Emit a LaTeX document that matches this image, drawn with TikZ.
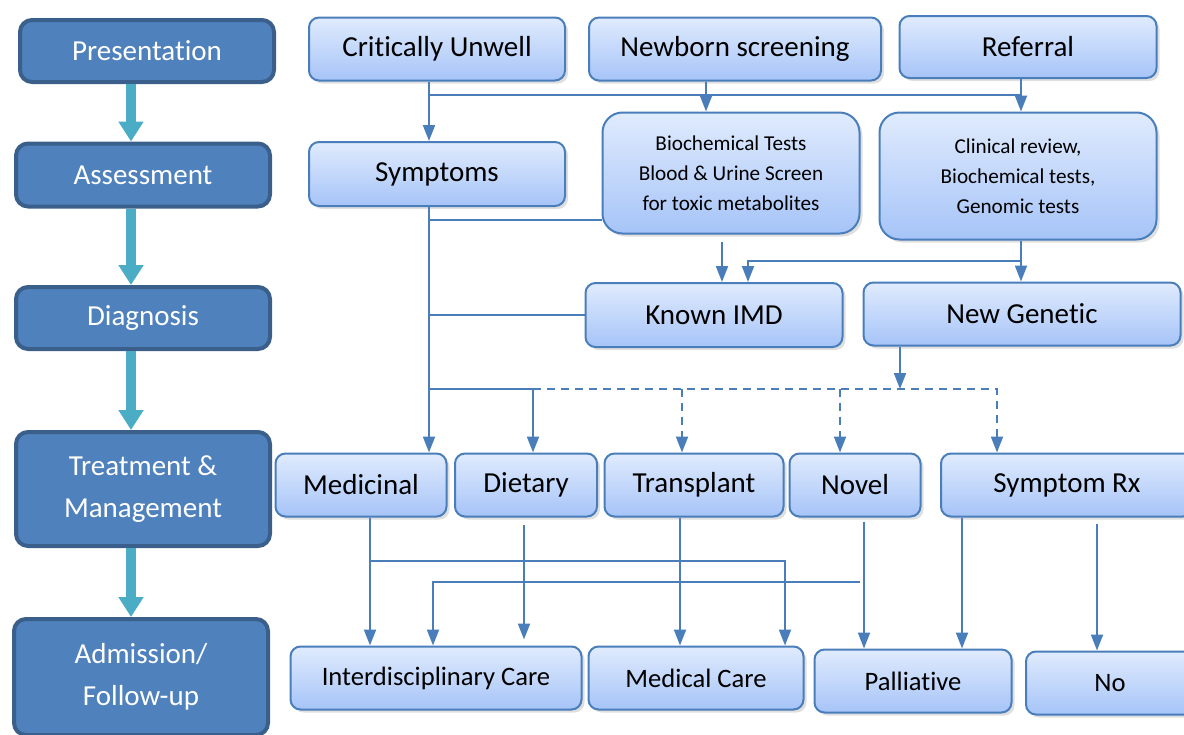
\documentclass[tikz,border=0pt]{standalone}
\usepackage{fontspec}
\setmainfont{Carlito}[Ligatures={NoCommon,NoContextual}]
\usetikzlibrary{arrows.meta,calc,shadows}
\definecolor{stagefill}{HTML}{4F81BD}
\definecolor{stageedge}{HTML}{3A5F8B}
\definecolor{stagearrow}{HTML}{4BACC6}
\definecolor{linkblue}{HTML}{4A7EBB}
\definecolor{boxtop}{HTML}{E0EBFD}
\definecolor{boxbot}{HTML}{A6C4F8}
\tikzset{
  stage/.style={draw=stageedge, line width=2pt, fill=stagefill, rounded corners=6pt,
    text=white, align=center, inner sep=0pt, font=\fontsize{14.5}{21}\selectfont},
  stagelink/.style={draw=stagearrow, line width=5pt, -{Triangle[width=12pt,length=10pt]}},
  item/.style={draw=linkblue, line width=1pt, top color=boxtop, bottom color=boxbot,
    rounded corners=5pt, align=center, inner sep=0pt, font=\fontsize{14.5}{17}\selectfont,
    drop shadow={shadow xshift=1.5pt, shadow yshift=-1.5pt, opacity=0.25}},
  testitem/.style={item, rounded corners=10pt, font=\fontsize{10.6}{15}\selectfont},
  careitem/.style={item, font=\fontsize{13.3}{16}\selectfont},
  link/.style={draw=linkblue, line width=1pt},
  flow/.style={link, -{Triangle[width=6pt,length=8pt]}},
  dflow/.style={flow, dash pattern=on 4pt off 3pt},
  dlink/.style={link, dash pattern=on 4pt off 3pt},
}

\begin{document}
\begin{tikzpicture}[x=0.5pt,y=-0.5pt]
  \useasboundingbox (0,0) rectangle (1184,734);

  % Stages
  \node[stage, minimum width=127pt, minimum height=31pt] (pres) at (147,51) {Presentation};
  \node[stage, minimum width=127pt, minimum height=31.5pt] (assess) at (143,175) {Assessment};
  \node[stage, minimum width=127pt, minimum height=31pt] (diag) at (143,318) {Diagnosis};
  \node[stage, minimum width=127pt, minimum height=57pt] (treat) at (143,489) {Treatment \&\\Management};
  \node[stage, minimum width=127pt, minimum height=58pt] (admit) at (141,677) {Admission/\\Follow-up};

  \draw[stagelink] ($(pres.south)+(-16,0)$) -- ($(assess.north)+(-12,0)$);
  \draw[stagelink] ($(assess.south)+(-12,0)$) -- ($(diag.north)+(-12,0)$);
  \draw[stagelink] ($(diag.south)+(-12,0)$) -- ($(treat.north)+(-12,0)$);
  \draw[stagelink] ($(treat.south)+(-12,0)$) -- ($(admit.north)+(-10,0)$);

  % Boxes
  \node[item, minimum width=128pt, minimum height=31.5pt] (crit) at (437,49) {Critically Unwell};
  \node[item, minimum width=146pt, minimum height=31.5pt] (newb) at (735,49) {Newborn screening};
  \node[item, minimum width=128.5pt, minimum height=31pt] (refr) at (1028,47) {Referral};
  \node[item, minimum width=128pt, minimum height=32pt] (sympt) at (437,174) {Symptoms};
  \node[testitem, minimum width=128.5pt, minimum height=60.5pt] (bioc) at (731,173)
    {Biochemical Tests\\Blood \& Urine Screen\\for toxic metabolites};
  \node[testitem, minimum width=138.5pt, minimum height=63.5pt] (clin) at (1018,176)
    {Clinical review,\\Biochemical tests,\\Genomic tests};
  \node[item, minimum width=128.5pt, minimum height=32pt] (known) at (714,315) {Known IMD};
  \node[item, minimum width=158.5pt, minimum height=31.5pt] (newg) at (1022,314) {New Genetic};
  \node[item, minimum width=85.5pt, minimum height=31.5pt] (medi) at (361,485) {Medicinal};
  \node[item, minimum width=71pt, minimum height=31.5pt] (diet) at (526,485) {Dietary};
  \node[item, minimum width=89.5pt, minimum height=31.5pt] (trans) at (694,485) {Transplant};
  \node[item, minimum width=65.5pt, minimum height=31.5pt] (novel) at (855,485) {Novel};
  \node[item, minimum width=126pt, minimum height=31.5pt] (symrx) at (1067,485) {Symptom Rx};
  \node[careitem, minimum width=145.5pt, minimum height=31.5pt] (inter) at (436,678) {Interdisciplinary Care};
  \node[careitem, minimum width=107.5pt, minimum height=31.5pt] (medc) at (696,678) {Medical Care};
  \node[careitem, minimum width=98.5pt, minimum height=31.5pt] (pall) at (913,681) {Palliative};
  \node[careitem, minimum width=84pt, minimum height=31.5pt] (no) at (1110,683) {No};

  % Joints
  \coordinate (trunk) at ($(sympt.south)+(-8,0)$);
  \coordinate (branch) at (533,389);
  \coordinate (gfoot) at ($(newg.south)+(-122,0)$);

  % Lines
  \draw[link] ($(crit.south)+(-8,13)$) -| ($(refr.south)+(-7,0)$);
  \draw[link] ($(crit.south)+(-8,0)$) -- ($(crit.south)+(-8,13)$);
  \draw[flow] ($(crit.south)+(-8,13)$) -- ($(sympt.north)+(-8,0)$);
  \draw[flow] ($(newb.south)+(-29,0)$) -- ($(bioc.north)+(-25,0)$);
  \draw[flow] ($(refr.south)+(-7,0)$) -- ($(clin.north)+(3,0)$);
  \draw[flow] (trunk) -- ($(medi.north)+(68,0)$);
  \draw[link] ($(bioc.west)+(0,47)$) -| (trunk);
  \draw[link] (known.west) -| (trunk);
  \draw[flow] ($(bioc.south)+(-9,7)$) -- ($(known.north)+(8,0)$);
  \draw[flow] ($(clin.south)+(3,0)$) |- ($(known.north)+(34,-21)$) -- ($(known.north)+(34,0)$);
  \draw[flow] ($(clin.south)+(3,0)$) -- ($(newg.north)+(-1,0)$);
  \draw[link] (branch) -| (trunk);
  \draw[flow] (branch) -- (branch |- diet.north);
  \draw[dflow] (branch) -| ($(symrx.north)+(-70,0)$);
  \foreach \n/\dx in {trans/-12, novel/-15}
    \draw[dflow] ($(\n.north)+(\dx,-64)$) -- ($(\n.north)+(\dx,0)$);
  \draw[flow] (gfoot) -- (gfoot |- branch);

  \draw[flow] ($(medi.south)+(9,0)$) -- ($(inter.north)+(-66,0)$);
  \draw[flow] ($(medi.south)+(9,43)$) -| ($(medc.north)+(89,0)$);
  \draw[flow] ($(diet.south)+(-2,7)$) -- ($(inter.north)+(88,-6)$);
  \draw[flow] ($(novel.south)+(5,64)$) -| ($(inter.north)+(-3,0)$);
  \draw[flow] ($(trans.south)+(-14,0)$) -- ($(medc.north)+(-16,0)$);
  \draw[flow] ($(novel.south)+(9,4)$) -- ($(pall.north)+(-49,0)$);
  \draw[flow] ($(symrx.south)+(-105,0)$) -- ($(pall.north)+(49,0)$);
  \draw[flow] ($(symrx.south)+(30,6)$) -- ($(no.north)+(-13,0)$);
\end{tikzpicture}
\end{document}
